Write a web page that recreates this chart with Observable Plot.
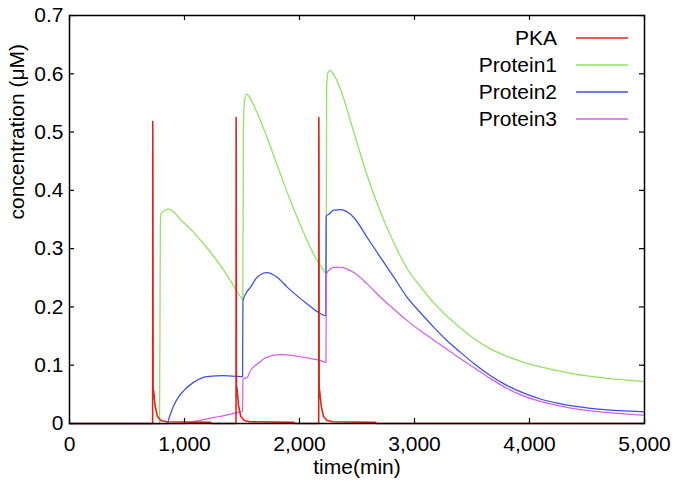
<!DOCTYPE html>
<html><head><meta charset="utf-8">
<script src="https://cdn.jsdelivr.net/npm/d3@7"></script>
<script src="https://cdn.jsdelivr.net/npm/@observablehq/plot@0.6"></script>
<style>body{margin:0;background:#fff;}</style>
</head><body><div id="chart"></div>
<script>
const seriesNames = ["PKA", "Protein1", "Protein2", "Protein3"];
const seriesColors = ["#d42a1c", "#8ee25c", "#3b4ee4", "#d65ee8"];
const xTicks = [0, 1000, 2000, 3000, 4000, 5000];
const yTicks = [0, 0.1, 0.2, 0.3, 0.4, 0.5, 0.6, 0.7];

const pkaTime = [0, 723, 724, 725, 727, 732, 745, 765, 795, 845, 1225, 1235,
  1448, 1449, 1450, 1452, 1457, 1470, 1490, 1520, 1570, 1950, 1960,
  2167, 2168, 2169, 2171, 2176, 2189, 2209, 2239, 2289, 2660, 2670, 5000];
const pkaConc = [0, 0, 0.518, 0.47, 0.06, 0.055, 0.03, 0.012, 0.005, 0.003, 0.002, 0,
  0, 0.525, 0.47, 0.065, 0.06, 0.03, 0.012, 0.005, 0.003, 0.002, 0,
  0, 0.525, 0.473, 0.06, 0.055, 0.03, 0.012, 0.005, 0.003, 0.002, 0, 0];

const p1Time = [0, 783, 790, 797, 830, 864, 900, 965, 1050, 1168, 1284, 1400, 1458, 1500, 1507,
  1512, 1520, 1540, 1574, 1632, 1690, 1777, 1864, 1950, 2037, 2124, 2200, 2232,
  2236, 2250, 2264, 2300, 2357, 2472, 2589, 2704, 2820, 2936, 3052, 3168, 3284, 3400,
  3516, 3661, 3806, 3951, 4096, 4241, 4386, 4531, 4676, 4821, 5000];
const p1Conc = [0, 0, 0.34, 0.36, 0.366, 0.368, 0.364, 0.35, 0.334, 0.308, 0.279, 0.245, 0.226, 0.214, 0.2125,
  0.5, 0.55, 0.565, 0.557, 0.533, 0.505, 0.459, 0.412, 0.368, 0.327, 0.29, 0.266, 0.257,
  0.58, 0.603, 0.606, 0.598, 0.573, 0.5, 0.425, 0.363, 0.31, 0.266, 0.235, 0.207, 0.184, 0.164,
  0.146, 0.128, 0.115, 0.105, 0.097, 0.091, 0.085, 0.081, 0.0776, 0.0749, 0.072];

const p2Time = [0, 849, 870, 907, 950, 994, 1081, 1197, 1342, 1487, 1505,
  1508, 1531, 1574, 1632, 1719, 1806, 1893, 1980, 2067, 2154, 2228,
  2232, 2255, 2298, 2357, 2472, 2589, 2704, 2820, 2936, 3052, 3168, 3284, 3400,
  3516, 3661, 3806, 3951, 4096, 4241, 4386, 4531, 4676, 4821, 5000];
const p2Conc = [0, 0, 0.012, 0.031, 0.046, 0.0565, 0.071, 0.0805, 0.082, 0.0805, 0.081,
  0.21, 0.222, 0.234, 0.251, 0.259, 0.251, 0.234, 0.219, 0.205, 0.192, 0.185,
  0.356, 0.359, 0.366, 0.367, 0.3535, 0.319, 0.285, 0.251, 0.2165, 0.19, 0.165, 0.142, 0.122,
  0.103, 0.082, 0.065, 0.052, 0.042, 0.035, 0.0297, 0.026, 0.0235, 0.0217, 0.02];

const p3Time = [0, 1010, 1100, 1200, 1300, 1400, 1458, 1505,
  1508, 1545, 1574, 1632, 1719, 1835, 1950, 2067, 2183, 2230,
  2234, 2250, 2300, 2357, 2472, 2589, 2704, 2820, 2936, 3052, 3168, 3284, 3400,
  3516, 3661, 3806, 3951, 4096, 4241, 4386, 4531, 4676, 4821, 5000];
const p3Conc = [0, 0, 0.004, 0.008, 0.012, 0.016, 0.019, 0.021,
  0.077, 0.079, 0.091, 0.102, 0.114, 0.118, 0.1165, 0.1125, 0.108, 0.105,
  0.255, 0.262, 0.268, 0.268, 0.259, 0.2395, 0.2165, 0.1965, 0.1765, 0.159, 0.143, 0.127, 0.111,
  0.096, 0.077, 0.06, 0.047, 0.038, 0.031, 0.0255, 0.0215, 0.019, 0.0166, 0.0142];

const seriesTimes = [pkaTime, p1Time, p2Time, p3Time];
const seriesConcs = [pkaConc, p1Conc, p2Conc, p3Conc];
const rowsOf = i => seriesTimes[i].map((t, j) => ({series: seriesNames[i], time: t, conc: seriesConcs[i][j]}));
const pkaRows = rowsOf(0);
const proteinRows = [1, 2, 3].flatMap(rowsOf);

const W = 675, H = 486;
const mL = 69, mR = 31, mT = 15, mB = 63;
const innerW = W - mL - mR, innerH = H - mT - mB;
const tickLen = 5;
const font = "'Liberation Sans', Arial, Helvetica, sans-serif";
const fs = 21;

const chart = Plot.plot({
  width: W, height: H,
  marginLeft: mL, marginRight: mR, marginTop: mT, marginBottom: mB,
  style: {fontFamily: font, fontSize: fs + "px", background: "white", color: "black"},
  x: {domain: [0, 5000], ticks: xTicks, tickFormat: d3.format(","), tickSize: 0, tickPadding: 13, label: null},
  y: {domain: [0, 0.7], ticks: yTicks, tickFormat: d => d === 0 ? "0" : d3.format(".1f")(d), tickSize: 0, tickPadding: 6, label: null},
  color: {domain: seriesNames, range: seriesColors},
  marks: [
    Plot.line(proteinRows, {x: "time", y: "conc", z: "series", stroke: "series", strokeWidth: 1.25, curve: "monotone-x"}),
    Plot.line(pkaRows, {x: "time", y: "conc", stroke: "series", strokeWidth: 1.6, curve: "linear"}),
    Plot.tickX(xTicks, {x: d => d, insetTop: innerH - tickLen, stroke: "black", strokeWidth: 1.2}),
    Plot.tickX(xTicks, {x: d => d, insetBottom: innerH - tickLen, stroke: "black", strokeWidth: 1.2}),
    Plot.tickY(yTicks, {y: d => d, insetRight: innerW - tickLen, stroke: "black", strokeWidth: 1.2}),
    Plot.tickY(yTicks, {y: d => d, insetLeft: innerW - tickLen, stroke: "black", strokeWidth: 1.2}),
    Plot.frame({stroke: "black", strokeWidth: 1.5}),
    Plot.text(["time(min)"], {frameAnchor: "bottom", dy: 50, fontSize: fs, fill: "black"}),
    Plot.text(["concentration (μM)"], {frameAnchor: "left", dx: -52, rotate: -90, fontSize: fs, fill: "black"})
  ]
});

// legend (top-right, inside the frame)
const svg = d3.select(chart);
const lg = svg.append("g").attr("font-family", font).attr("font-size", fs);
const legendRowY = [38, 65, 92, 119];
seriesNames.forEach((name, i) => {
  lg.append("text").attr("x", 557).attr("y", legendRowY[i]).attr("dy", "0.35em")
    .attr("text-anchor", "end").attr("fill", "black").text(name);
  lg.append("line").attr("x1", 576).attr("x2", 628).attr("y1", legendRowY[i]).attr("y2", legendRowY[i])
    .attr("stroke", seriesColors[i]).attr("stroke-width", 1.6);
});

document.getElementById("chart").appendChild(chart);
</script>
</body></html>
